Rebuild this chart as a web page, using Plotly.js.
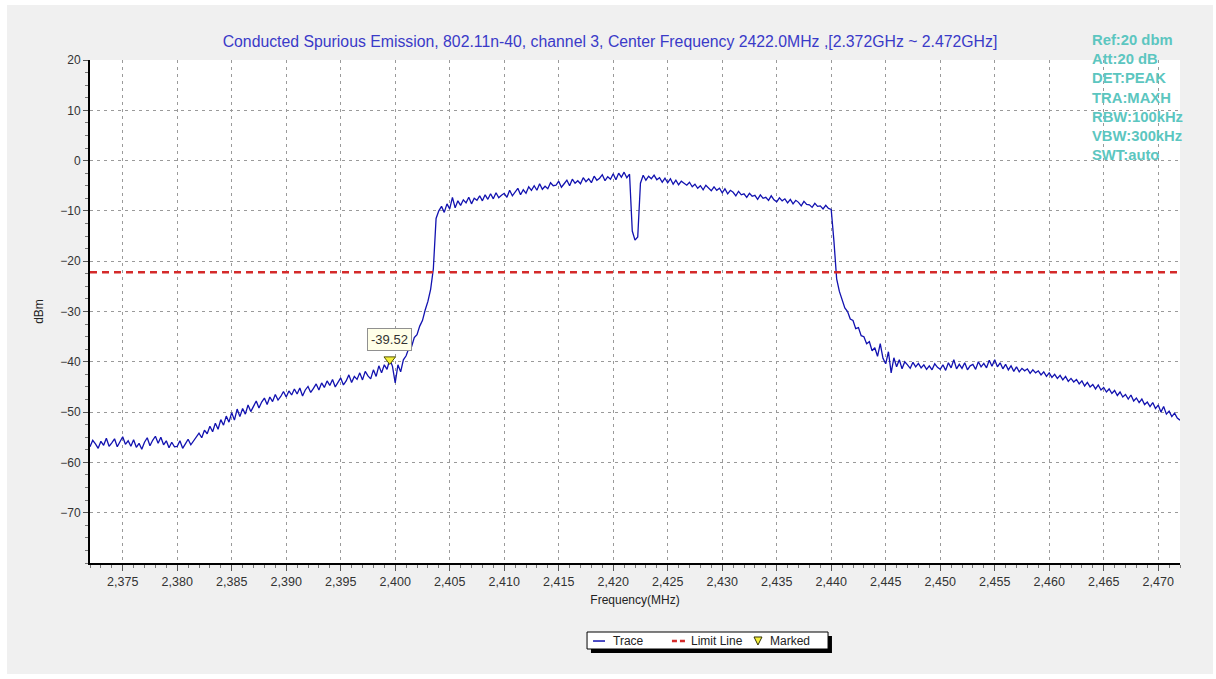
<!DOCTYPE html>
<html>
<head>
<meta charset="utf-8">
<script src="https://cdn.plot.ly/plotly-3.0.1.min.js"></script>
<style>
  html, body { margin: 0; padding: 0; background: #ffffff; }
  #chart { position: absolute; left: 7px; top: 5px; width: 1206px; height: 669px; }
</style>
</head>
<body>
<div id="chart"></div>
<script>
// Sweep: 2372 MHz to 2472 MHz, 0.25 MHz per sample
const startFreq = 2372;
const stepFreq = 0.25;

// Trace amplitude (dBm), 4 samples per MHz
const traceLevels = [
  -56.9, -55.6, -56.3, -57.2,   // 2372
  -55.8, -56.6, -55.2, -56.8,   // 2373
  -56.1, -55.3, -56.9, -55.9,   // 2374
  -54.9, -56.4, -55.7, -56.8,   // 2375
  -55.5, -57.0, -56.2, -57.4,   // 2376
  -56.0, -55.1, -56.7, -55.6,   // 2377
  -54.8, -56.2, -55.0, -56.5,   // 2378
  -55.7, -57.1, -56.0, -56.9,   // 2379
  -56.8, -55.7, -57.2, -56.3,   // 2380
  -55.4, -56.5, -55.8, -54.9,   // 2381
  -54.2, -55.1, -53.6, -54.3,   // 2382
  -52.8, -53.9, -52.2, -53.4,   // 2383
  -51.5, -52.6, -50.8, -52.0,   // 2384
  -50.1, -51.6, -49.4, -50.9,   // 2385
  -49.3, -50.4, -48.6, -49.9,   // 2386
  -48.9, -47.8, -49.2, -48.0,   // 2387
  -47.2, -48.5, -47.0, -47.9,   // 2388
  -46.5, -47.6, -46.9, -45.9,   // 2389
  -47.0, -45.8, -46.6, -45.4,   // 2390
  -46.4, -45.2, -46.8, -45.6,   // 2391
  -44.9, -46.1, -45.3, -44.4,   // 2392
  -45.6, -44.2, -45.1, -43.8,   // 2393
  -44.7, -43.5, -45.0, -44.0,   // 2394
  -43.2, -44.6, -43.8, -42.6,   // 2395
  -44.1, -42.9, -43.5, -42.2,   // 2396
  -43.6, -41.9, -42.8, -43.4,   // 2397
  -41.6, -42.9, -40.8, -42.2,   // 2398
  -40.6, -41.5, -39.5, -40.9,   // 2399
  -44.2, -40.6, -42.0, -39.6,   // 2400
  -38.8, -37.3, -37.0, -35.2,   // 2401
  -34.6, -32.9, -31.8, -29.7,   // 2402
  -28.0, -25.6, -21.5, -11.5,   // 2403
  -10.0, -9.1, -10.3, -8.6,     // 2404
  -9.6, -7.3, -9.4, -8.0,       // 2405
  -8.9, -7.8, -8.4, -7.3,       // 2406
  -8.6, -7.5, -7.9, -7.0,       // 2407
  -8.0, -6.8, -7.7, -6.6,       // 2408
  -7.6, -6.4, -7.4, -6.9,       // 2409
  -6.5, -7.3, -5.9, -7.0,       // 2410
  -6.3, -5.5, -6.8, -5.8,       // 2411
  -6.5, -5.2, -5.9, -5.0,       // 2412
  -5.9, -4.6, -5.7, -5.1,       // 2413
  -5.6, -4.4, -5.0, -4.9,       // 2414
  -4.1, -5.3, -4.6, -3.9,       // 2415
  -5.0, -3.7, -4.5, -4.0,       // 2416
  -4.6, -3.4, -4.2, -3.6,       // 2417
  -4.4, -3.1, -3.9, -3.5,       // 2418
  -2.8, -4.0, -3.2, -3.7,       // 2419
  -2.6, -3.8, -2.5, -3.3,       // 2420
  -2.3, -3.4, -2.7, -14.0,      // 2421
  -15.8, -15.2, -4.5, -2.9,     // 2422
  -3.9, -3.1, -3.6, -2.9,       // 2423
  -3.8, -3.4, -4.3, -3.5,       // 2424
  -4.4, -3.6, -4.7, -3.9,       // 2425
  -4.8, -4.1, -4.5, -4.9,       // 2426
  -4.3, -5.2, -4.7, -5.5,       // 2427
  -5.0, -5.8, -4.9, -5.4,       // 2428
  -6.0, -5.2, -5.9, -5.5,       // 2429
  -6.4, -5.6, -6.6, -5.9,       // 2430
  -6.3, -7.0, -6.1, -6.8,       // 2431
  -6.6, -7.3, -6.5, -7.1,       // 2432
  -6.9, -7.7, -6.8, -7.5,       // 2433
  -7.3, -7.9, -7.0, -7.8,       // 2434
  -8.2, -7.4, -8.0, -7.6,       // 2435
  -8.4, -7.7, -8.6, -7.9,       // 2436
  -8.3, -9.0, -8.1, -8.7,       // 2437
  -8.8, -9.3, -8.5, -9.1,       // 2438
  -9.0, -9.6, -8.9, -9.5,       // 2439
  -9.7, -16.0, -23.5, -26.0,    // 2440
  -27.5, -29.3, -30.0, -31.5,   // 2441
  -31.8, -33.4, -33.2, -34.8,   // 2442
  -35.0, -36.4, -36.0, -37.8,   // 2443
  -37.2, -38.9, -36.4, -39.3,   // 2444
  -40.4, -38.0, -42.2, -39.2,   // 2445
  -41.0, -39.6, -41.4, -40.0,   // 2446
  -40.6, -41.3, -40.1, -41.0,   // 2447
  -40.3, -41.2, -40.6, -41.5,   // 2448
  -40.8, -41.6, -40.4, -41.1,   // 2449
  -41.5, -40.6, -41.7, -40.2,   // 2450
  -41.2, -39.6, -41.4, -40.5,   // 2451
  -41.3, -40.2, -41.6, -40.8,   // 2452
  -40.5, -41.5, -40.0, -41.0,   // 2453
  -40.3, -41.2, -39.7, -40.9,   // 2454
  -39.6, -41.0, -40.2, -41.4,   // 2455
  -40.5, -41.6, -40.8, -41.9,   // 2456
  -41.0, -42.0, -41.3, -41.8,   // 2457
  -41.4, -42.3, -41.6, -42.2,   // 2458
  -41.8, -42.6, -42.0, -42.9,   // 2459
  -42.2, -43.1, -42.5, -43.3,   // 2460
  -42.7, -43.6, -42.9, -43.9,   // 2461
  -43.3, -44.0, -43.5, -44.4,   // 2462
  -43.8, -44.8, -44.1, -45.0,   // 2463
  -44.5, -45.4, -44.6, -45.6,   // 2464
  -45.1, -46.0, -45.4, -46.3,   // 2465
  -45.7, -46.7, -46.0, -47.0,   // 2466
  -46.5, -47.4, -46.6, -47.8,   // 2467
  -47.2, -48.1, -47.4, -48.5,   // 2468
  -48.0, -48.9, -48.1, -49.3,   // 2469
  -48.6, -50.0, -48.9, -50.4,   // 2470
  -49.8, -50.9, -50.2, -51.2,   // 2471
  -51.6                         // 2472
];

const limitFreqs = [2372, 2472];
const limitLevels = [-22.2, -22.2];

const markerFreq = [2399.5];
const markerLevel = [-39.52];
const markerLabel = ['-39.52'];

const xTickVals = [2375, 2380, 2385, 2390, 2395, 2400, 2405, 2410, 2415, 2420, 2425,
                   2430, 2435, 2440, 2445, 2450, 2455, 2460, 2465, 2470];
const yTickVals = [20, 10, 0, -10, -20, -30, -40, -50, -60, -70];

const infoLines = ['Ref:20 dbm', 'Att:20 dB', 'DET:PEAK', 'TRA:MAXH', 'RBW:100kHz', 'VBW:300kHz', 'SWT:auto'];
const legendNames = ['Trace', 'Limit Line', 'Marked'];

const titleText = 'Conducted Spurious Emission, 802.11n-40, channel 3, Center Frequency 2422.0MHz ,[2.372GHz ~ 2.472GHz]';

const traceFreqs = traceLevels.map((_, i) => startFreq + i * stepFreq);

const FONT = '"Liberation Sans", Arial, sans-serif';
const TRACE_COLOR = '#1212b0';
const LIMIT_COLOR = '#d42a2a';
const MARK_COLOR = '#f5f03c';

const data = [
  {
    x: traceFreqs, y: traceLevels, type: 'scatter', mode: 'lines', name: legendNames[0],
    line: { color: TRACE_COLOR, width: 1.3 }
  },
  {
    x: limitFreqs, y: limitLevels, type: 'scatter', mode: 'lines', name: legendNames[1],
    line: { color: LIMIT_COLOR, width: 2.5, dash: '7px,5px' }
  },
  {
    x: markerFreq, y: markerLevel, type: 'scatter', mode: 'markers', name: legendNames[2],
    marker: { symbol: 'triangle-down', size: 10, color: MARK_COLOR, line: { color: '#555500', width: 1 } }
  }
];

// Legend drawn as a boxed key below the plot (paper coordinates)
const shapes = [
  { type: 'rect', xref: 'paper', yref: 'paper', x0: 0.4596, x1: 0.6807, y0: -0.1789, y1: -0.1451,
    fillcolor: '#000000', line: { width: 0 } },
  { type: 'rect', xref: 'paper', yref: 'paper', x0: 0.4560, x1: 0.6771, y0: -0.1710, y1: -0.1372,
    fillcolor: '#ffffff', line: { color: '#000000', width: 1 } },
  { type: 'line', xref: 'paper', yref: 'paper', x0: 0.4615, x1: 0.4725, y0: -0.1551, y1: -0.1551,
    line: { color: TRACE_COLOR, width: 1.5 } },
  { type: 'line', xref: 'paper', yref: 'paper', x0: 0.5339, x1: 0.5468, y0: -0.1551, y1: -0.1551,
    line: { color: LIMIT_COLOR, width: 2.5, dash: '5px,3px' } },
  { type: 'path', xref: 'paper', yref: 'paper',
    path: 'M 0.6092 -0.1471 L 0.6165 -0.1471 L 0.6128 -0.1630 Z',
    fillcolor: MARK_COLOR, line: { color: '#333300', width: 1 } }
];

const legendTextX = [0.4780, 0.5495, 0.6220];

const annotations = [
  {
    xref: 'x', yref: 'y', x: markerFreq[0], y: markerLevel[0], text: markerLabel[0],
    showarrow: false, yshift: 20, xshift: 0,
    bgcolor: '#ffffe8', bordercolor: '#909090', borderwidth: 1, borderpad: 3,
    font: { family: FONT, size: 13, color: '#333333' }
  },
  {
    xref: 'paper', yref: 'paper', x: 0.9175, y: 1.06, xanchor: 'left', yanchor: 'top',
    align: 'left', showarrow: false, text: infoLines.map(s => '<b>' + s + '</b>').join('<br>'),
    font: { family: FONT, size: 14.8, color: '#5cc6c0' }
  }
].concat(legendNames.map((name, i) => ({
  xref: 'paper', yref: 'paper', x: legendTextX[i], y: -0.1551, xanchor: 'left', yanchor: 'middle',
  showarrow: false, text: name, font: { family: FONT, size: 12, color: '#222222' }
})));

const layout = {
  width: 1206, height: 669,
  paper_bgcolor: '#f0f0f0', plot_bgcolor: '#ffffff',
  margin: { l: 83, r: 33, t: 55, b: 111 },
  title: {
    text: titleText, x: 0.5, xref: 'container', y: 0.945, yref: 'container', yanchor: 'middle',
    font: { family: FONT, size: 15.8, color: '#3a3ac8' }
  },
  font: { family: FONT, size: 12, color: '#222222' },
  showlegend: false,
  xaxis: {
    range: [2372, 2472], tickmode: 'array', tickvals: xTickVals, separatethousands: true,
    showgrid: true, gridcolor: '#9a9a9a', griddash: '3px,4px', gridwidth: 1,
    showline: true, linecolor: '#000000', linewidth: 2, zeroline: false,
    ticks: 'outside', ticklen: 6, tickcolor: '#555555',
    minor: { dtick: 1, tick0: 2372, ticks: 'outside', ticklen: 3, tickcolor: '#777777', showgrid: false },
    tickfont: { family: FONT, size: 12.5, color: '#333333' },
    title: { text: 'Frequency(MHz)', font: { family: FONT, size: 12, color: '#222222' }, standoff: 8 }
  },
  yaxis: {
    range: [-80, 20], tickmode: 'array', tickvals: yTickVals,
    showgrid: true, gridcolor: '#9a9a9a', griddash: '3px,4px', gridwidth: 1,
    showline: true, linecolor: '#000000', linewidth: 2, zeroline: false,
    ticks: 'outside', ticklen: 5, tickcolor: '#555555',
    minor: { dtick: 2.5, ticks: 'outside', ticklen: 3, tickcolor: '#777777', showgrid: false },
    tickfont: { family: FONT, size: 12, color: '#333333' },
    title: { text: 'dBm', font: { family: FONT, size: 12, color: '#222222' }, standoff: 14 }
  },
  shapes: shapes,
  annotations: annotations
};

Plotly.newPlot('chart', data, layout, { displayModeBar: false, staticPlot: true });
</script>
</body>
</html>
